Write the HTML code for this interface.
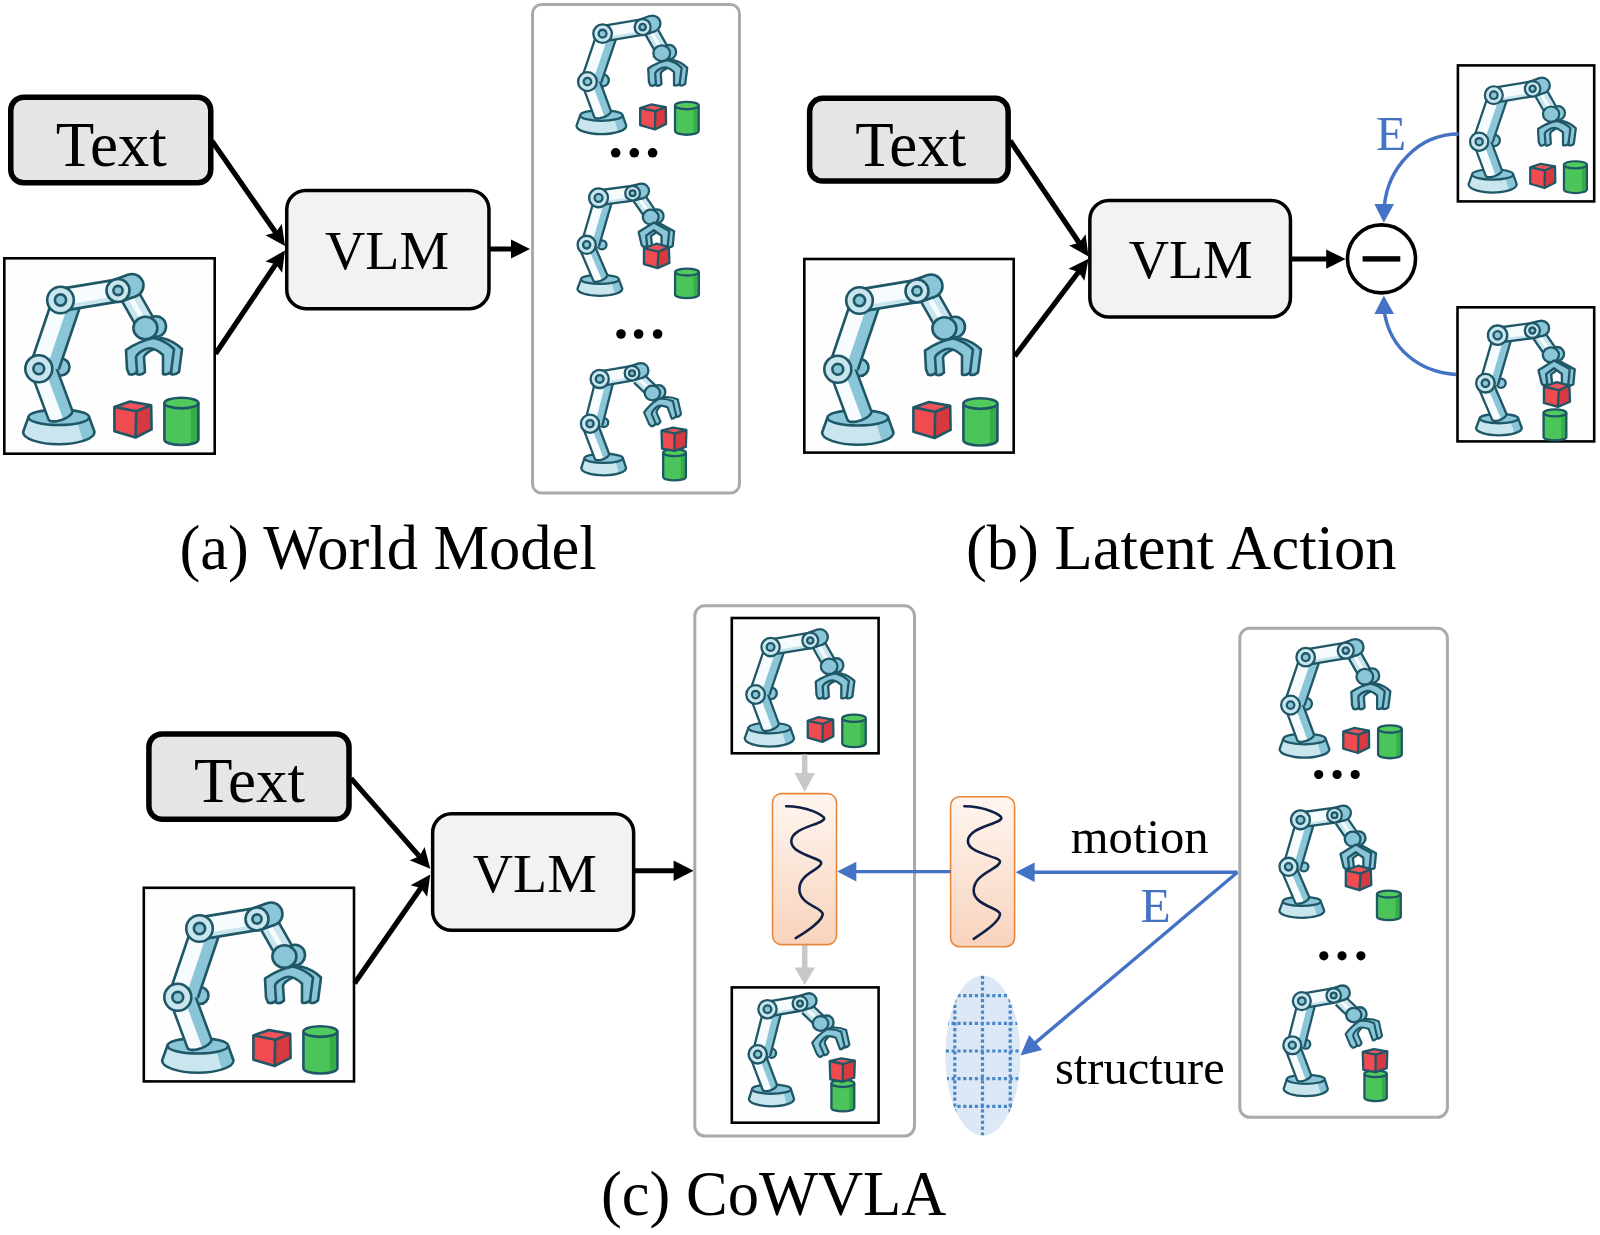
<!DOCTYPE html>
<html><head><meta charset="utf-8"><title>CoWVLA</title>
<style>html,body{margin:0;padding:0;background:#fff;width:1600px;height:1235px;overflow:hidden} svg{display:block}</style>
</head><body>
<svg width="1600" height="1235" viewBox="0 0 1600 1235">
<defs><g id="rA"><path d="M25.4,160.3 L20.1,175.0 A35.7,12.2 0 0 0 91.5,175.0 L86.2,160.3 Z" fill="#c9e6ef"/><path d="M74.6,166.5 L80.1,184.2 A35.7,12.2 0 0 0 91.5,175.0 L86.2,160.3 Z" fill="#8ac6d8"/><path d="M25.4,160.3 L20.1,175.0 A35.7,12.2 0 0 0 91.5,175.0 L86.2,160.3 Z" fill="none" stroke="#1f5767" stroke-width="2.6" stroke-linejoin="round"/><ellipse cx="55.8" cy="160.3" rx="30.4" ry="7.7" fill="#8ac6d8" stroke="#1f5767" stroke-width="2.6"/><circle cx="58.0" cy="110.0" r="8.5" fill="#8ac6d8" stroke="#1f5767" stroke-width="2.6"/><polygon points="51.9,106.6 69.3,153.6 69.4,154.8 68.9,156.1 67.8,157.5 66.2,159.0 64.1,160.4 61.8,161.6 59.2,162.7 56.5,163.6 53.8,164.2 51.4,164.4 49.2,164.4 47.5,164.0 46.2,163.3 45.5,162.4 28.1,115.4" fill="#f6fbfd"/><polygon points="51.9,106.6 69.3,153.6 69.3,154.9 68.7,156.4 67.4,157.9 65.5,159.5 63.1,161.0 60.3,162.3 41.2,110.6" fill="#8ac6d8"/><polyline points="51.9,106.6 69.3,153.6 69.4,154.8 68.9,156.1 67.8,157.5 66.2,159.0 64.1,160.4 61.8,161.6 59.2,162.7 56.5,163.6 53.8,164.2 51.4,164.4 49.2,164.4 47.5,164.0 46.2,163.3 45.5,162.4 28.1,115.4" fill="none" stroke="#1f5767" stroke-width="2.6" stroke-linejoin="round"/><polygon points="55.8,112.5 77.1,49.5 50.1,40.5 28.8,103.5" fill="#f6fbfd"/><polygon points="55.8,112.5 77.1,49.5 65.8,45.7 44.5,108.7" fill="#8ac6d8"/><path d="M55.8,112.5 L77.1,49.5 M50.1,40.5 L28.8,103.5" fill="none" stroke="#1f5767" stroke-width="2.6"/><circle cx="35.8" cy="111.8" r="13.5" fill="#c9e6ef" stroke="#1f5767" stroke-width="2.6"/><circle cx="35.8" cy="111.8" r="5.4" fill="#8ac6d8" stroke="#1f5767" stroke-width="2.6"/><polygon points="59.3,53.9 116.8,44.4 113.2,22.6 55.7,32.1" fill="#f6fbfd"/><polygon points="59.3,53.9 116.8,44.4 115.9,38.9 58.4,48.4" fill="#c9e6ef"/><path d="M59.3,53.9 L116.8,44.4 M113.2,22.6 L55.7,32.1" fill="none" stroke="#1f5767" stroke-width="2.6"/><circle cx="57.5" cy="43.0" r="13.3" fill="#c9e6ef" stroke="#1f5767" stroke-width="2.6"/><circle cx="57.5" cy="43.0" r="5.6" fill="#8ac6d8" stroke="#1f5767" stroke-width="2.6"/><polygon points="118.7,43.7 135.2,72.7 151.8,63.3 135.3,34.3" fill="#c9e6ef"/><polygon points="124.5,40.4 141.0,69.4 145.2,67.1 128.7,38.1" fill="#f6fbfd"/><path d="M118.7,43.7 L135.2,72.7 M151.8,63.3 L135.3,34.3" fill="none" stroke="#1f5767" stroke-width="2.6"/><polygon points="118.9,44.3 132.9,39.3 125.1,17.7 111.1,22.7" fill="#8ac6d8"/><path d="M118.9,44.3 L132.9,39.3 M125.1,17.7 L111.1,22.7" fill="none" stroke="#1f5767" stroke-width="2.6"/><circle cx="129.0" cy="28.5" r="11.5" fill="#8ac6d8" stroke="#1f5767" stroke-width="2.6"/><polygon points="118.4,43.1 132.4,38.1 125.6,18.9 111.6,23.9" fill="#8ac6d8"/><circle cx="115.0" cy="33.5" r="11.5" fill="#c9e6ef" stroke="#1f5767" stroke-width="2.6"/><circle cx="115.0" cy="33.5" r="4.6" fill="#8ac6d8" stroke="#1f5767" stroke-width="2.6"/><ellipse cx="153.0" cy="69.5" rx="10.0" ry="10.3" fill="#8ac6d8" stroke="#1f5767" stroke-width="2.6"/><ellipse cx="142.4" cy="71.0" rx="12.0" ry="11.3" fill="#8ac6d8" stroke="#1f5767" stroke-width="2.6"/><g transform=""><path d="M123,93 Q136,84 151,81 Q163,84 171,92 L168,115 Q164,118.5 160,117 L160,98 Q150,89 143,92 Q134,96 133,100 L134,115 Q130,119 126,117 L124,112 Z" transform="translate(8,0)" fill="#8ac6d8" stroke="#1f5767" stroke-width="2.6" stroke-linejoin="round"/><path d="M123,93 Q136,84 151,81 Q163,84 171,92 L168,115 Q164,118.5 160,117 L160,98 Q150,89 143,92 Q134,96 133,100 L134,115 Q130,119 126,117 L124,112 Z" fill="#8ac6d8" stroke="#1f5767" stroke-width="2.6" stroke-linejoin="round"/></g><path d="M161.4,146.1 L161.4,182.7 A17.0,5.3 0 0 0 195.4,182.7 L195.4,146.1 Z" fill="#4bc45a"/><path d="M187.9,151.4 L187.9,186.9 A17.0,5.3 0 0 0 195.4,182.7 L195.4,146.1 Z" fill="#35ae48"/><path d="M161.4,146.1 L161.4,182.7 A17.0,5.3 0 0 0 195.4,182.7 L195.4,146.1" fill="none" stroke="#1f5767" stroke-width="2.6"/><ellipse cx="178.4" cy="146.1" rx="17.0" ry="5.3" fill="#52cb5e" stroke="#1f5767" stroke-width="2.6"/><polygon points="111.4,149.9 133.2,154.2 132.6,180.5 111.4,174.2" fill="#ef4b51"/><polygon points="133.2,154.2 148.2,148.3 148.6,172.4 132.6,180.5" fill="#d6393f"/><polygon points="111.4,149.9 127.0,144.6 148.2,148.3 133.2,154.2" fill="#f2545a"/><polygon points="111.4,149.9 127.0,144.6 148.2,148.3 148.6,172.4 132.6,180.5 111.4,174.2" fill="none" stroke="#1f5767" stroke-width="2.6" stroke-linejoin="round"/><polyline points="111.4,149.9 133.2,154.2 148.2,148.3" fill="none" stroke="#1f5767" stroke-width="2.6" stroke-linejoin="round"/><line x1="133.2" y1="154.2" x2="132.6" y2="180.5" stroke="#1f5767" stroke-width="2.6"/></g><g id="sA"><path d="M25.4,160.3 L20.1,175.0 A35.7,12.2 0 0 0 91.5,175.0 L86.2,160.3 Z" fill="#c9e6ef"/><path d="M74.6,166.5 L80.1,184.2 A35.7,12.2 0 0 0 91.5,175.0 L86.2,160.3 Z" fill="#8ac6d8"/><path d="M25.4,160.3 L20.1,175.0 A35.7,12.2 0 0 0 91.5,175.0 L86.2,160.3 Z" fill="none" stroke="#1f5767" stroke-width="3.3" stroke-linejoin="round"/><ellipse cx="55.8" cy="160.3" rx="30.4" ry="7.7" fill="#8ac6d8" stroke="#1f5767" stroke-width="3.3"/><circle cx="58.0" cy="110.0" r="8.5" fill="#8ac6d8" stroke="#1f5767" stroke-width="3.3"/><polygon points="51.9,106.6 69.3,153.6 69.4,154.8 68.9,156.1 67.8,157.5 66.2,159.0 64.1,160.4 61.8,161.6 59.2,162.7 56.5,163.6 53.8,164.2 51.4,164.4 49.2,164.4 47.5,164.0 46.2,163.3 45.5,162.4 28.1,115.4" fill="#f6fbfd"/><polygon points="51.9,106.6 69.3,153.6 69.3,154.9 68.7,156.4 67.4,157.9 65.5,159.5 63.1,161.0 60.3,162.3 41.2,110.6" fill="#8ac6d8"/><polyline points="51.9,106.6 69.3,153.6 69.4,154.8 68.9,156.1 67.8,157.5 66.2,159.0 64.1,160.4 61.8,161.6 59.2,162.7 56.5,163.6 53.8,164.2 51.4,164.4 49.2,164.4 47.5,164.0 46.2,163.3 45.5,162.4 28.1,115.4" fill="none" stroke="#1f5767" stroke-width="3.3" stroke-linejoin="round"/><polygon points="55.8,112.5 77.1,49.5 50.1,40.5 28.8,103.5" fill="#f6fbfd"/><polygon points="55.8,112.5 77.1,49.5 65.8,45.7 44.5,108.7" fill="#8ac6d8"/><path d="M55.8,112.5 L77.1,49.5 M50.1,40.5 L28.8,103.5" fill="none" stroke="#1f5767" stroke-width="3.3"/><circle cx="35.8" cy="111.8" r="13.5" fill="#c9e6ef" stroke="#1f5767" stroke-width="3.3"/><circle cx="35.8" cy="111.8" r="5.4" fill="#8ac6d8" stroke="#1f5767" stroke-width="3.3"/><polygon points="59.3,53.9 116.8,44.4 113.2,22.6 55.7,32.1" fill="#f6fbfd"/><polygon points="59.3,53.9 116.8,44.4 115.9,38.9 58.4,48.4" fill="#c9e6ef"/><path d="M59.3,53.9 L116.8,44.4 M113.2,22.6 L55.7,32.1" fill="none" stroke="#1f5767" stroke-width="3.3"/><circle cx="57.5" cy="43.0" r="13.3" fill="#c9e6ef" stroke="#1f5767" stroke-width="3.3"/><circle cx="57.5" cy="43.0" r="5.6" fill="#8ac6d8" stroke="#1f5767" stroke-width="3.3"/><polygon points="118.7,43.7 135.2,72.7 151.8,63.3 135.3,34.3" fill="#c9e6ef"/><polygon points="124.5,40.4 141.0,69.4 145.2,67.1 128.7,38.1" fill="#f6fbfd"/><path d="M118.7,43.7 L135.2,72.7 M151.8,63.3 L135.3,34.3" fill="none" stroke="#1f5767" stroke-width="3.3"/><polygon points="118.9,44.3 132.9,39.3 125.1,17.7 111.1,22.7" fill="#8ac6d8"/><path d="M118.9,44.3 L132.9,39.3 M125.1,17.7 L111.1,22.7" fill="none" stroke="#1f5767" stroke-width="3.3"/><circle cx="129.0" cy="28.5" r="11.5" fill="#8ac6d8" stroke="#1f5767" stroke-width="3.3"/><polygon points="118.3,42.8 132.3,37.8 125.7,19.2 111.7,24.2" fill="#8ac6d8"/><circle cx="115.0" cy="33.5" r="11.5" fill="#c9e6ef" stroke="#1f5767" stroke-width="3.3"/><circle cx="115.0" cy="33.5" r="4.6" fill="#8ac6d8" stroke="#1f5767" stroke-width="3.3"/><ellipse cx="153.0" cy="69.5" rx="10.0" ry="10.3" fill="#8ac6d8" stroke="#1f5767" stroke-width="3.3"/><ellipse cx="142.4" cy="71.0" rx="12.0" ry="11.3" fill="#8ac6d8" stroke="#1f5767" stroke-width="3.3"/><g transform=""><path d="M123,93 Q136,84 151,81 Q163,84 171,92 L168,115 Q164,118.5 160,117 L160,98 Q150,89 143,92 Q134,96 133,100 L134,115 Q130,119 126,117 L124,112 Z" transform="translate(8,0)" fill="#8ac6d8" stroke="#1f5767" stroke-width="3.3" stroke-linejoin="round"/><path d="M123,93 Q136,84 151,81 Q163,84 171,92 L168,115 Q164,118.5 160,117 L160,98 Q150,89 143,92 Q134,96 133,100 L134,115 Q130,119 126,117 L124,112 Z" fill="#8ac6d8" stroke="#1f5767" stroke-width="3.3" stroke-linejoin="round"/></g><path d="M161.4,146.1 L161.4,182.7 A17.0,5.3 0 0 0 195.4,182.7 L195.4,146.1 Z" fill="#4bc45a"/><path d="M187.9,151.4 L187.9,186.9 A17.0,5.3 0 0 0 195.4,182.7 L195.4,146.1 Z" fill="#35ae48"/><path d="M161.4,146.1 L161.4,182.7 A17.0,5.3 0 0 0 195.4,182.7 L195.4,146.1" fill="none" stroke="#1f5767" stroke-width="3.3"/><ellipse cx="178.4" cy="146.1" rx="17.0" ry="5.3" fill="#52cb5e" stroke="#1f5767" stroke-width="3.3"/><polygon points="111.4,149.9 133.2,154.2 132.6,180.5 111.4,174.2" fill="#ef4b51"/><polygon points="133.2,154.2 148.2,148.3 148.6,172.4 132.6,180.5" fill="#d6393f"/><polygon points="111.4,149.9 127.0,144.6 148.2,148.3 133.2,154.2" fill="#f2545a"/><polygon points="111.4,149.9 127.0,144.6 148.2,148.3 148.6,172.4 132.6,180.5 111.4,174.2" fill="none" stroke="#1f5767" stroke-width="3.3" stroke-linejoin="round"/><polyline points="111.4,149.9 133.2,154.2 148.2,148.3" fill="none" stroke="#1f5767" stroke-width="3.3" stroke-linejoin="round"/><line x1="133.2" y1="154.2" x2="132.6" y2="180.5" stroke="#1f5767" stroke-width="3.3"/></g><g id="rB"><path d="M30.0,156.3 L25.0,169.5 A32.0,10.3 0 0 0 89.0,169.5 L84.0,156.3 Z" fill="#c9e6ef"/><path d="M73.7,161.5 L78.8,177.2 A32.0,10.3 0 0 0 89.0,169.5 L84.0,156.3 Z" fill="#8ac6d8"/><path d="M30.0,156.3 L25.0,169.5 A32.0,10.3 0 0 0 89.0,169.5 L84.0,156.3 Z" fill="none" stroke="#1f5767" stroke-width="3.3" stroke-linejoin="round"/><ellipse cx="57.0" cy="156.3" rx="27.0" ry="6.5" fill="#8ac6d8" stroke="#1f5767" stroke-width="3.3"/><circle cx="59.9" cy="106.9" r="6.5" fill="#8ac6d8" stroke="#1f5767" stroke-width="3.3"/><polygon points="46.9,101.8 67.4,149.7 67.5,150.7 67.1,151.8 66.3,153.1 65.0,154.4 63.3,155.6 61.3,156.8 59.2,157.9 57.0,158.7 54.7,159.3 52.7,159.6 50.8,159.7 49.3,159.4 48.2,158.9 47.6,158.1 27.1,110.2" fill="#f6fbfd"/><polygon points="46.9,101.8 67.4,149.7 67.5,150.8 67.0,152.0 66.0,153.4 64.4,154.8 62.4,156.2 60.2,157.4 38.0,105.6" fill="#8ac6d8"/><polyline points="46.9,101.8 67.4,149.7 67.5,150.7 67.1,151.8 66.3,153.1 65.0,154.4 63.3,155.6 61.3,156.8 59.2,157.9 57.0,158.7 54.7,159.3 52.7,159.6 50.8,159.7 49.3,159.4 48.2,158.9 47.6,158.1 27.1,110.2" fill="none" stroke="#1f5767" stroke-width="3.3" stroke-linejoin="round"/><polygon points="55.5,109.5 75.6,40.5 51.4,33.5 31.3,102.5" fill="#f6fbfd"/><polygon points="55.5,109.5 75.6,40.5 65.4,37.6 45.3,106.6" fill="#8ac6d8"/><path d="M55.5,109.5 L75.6,40.5 M51.4,33.5 L31.3,102.5" fill="none" stroke="#1f5767" stroke-width="3.3"/><circle cx="38.1" cy="106.9" r="13.0" fill="#c9e6ef" stroke="#1f5767" stroke-width="3.3"/><circle cx="38.1" cy="106.9" r="5.2" fill="#8ac6d8" stroke="#1f5767" stroke-width="3.3"/><polygon points="56.5,50.1 105.1,43.6 102.3,22.8 53.7,29.3" fill="#f6fbfd"/><polygon points="56.5,50.1 105.1,43.6 104.4,38.4 55.8,44.9" fill="#c9e6ef"/><path d="M56.5,50.1 L105.1,43.6 M102.3,22.8 L53.7,29.3" fill="none" stroke="#1f5767" stroke-width="3.3"/><circle cx="55.1" cy="39.7" r="13.5" fill="#c9e6ef" stroke="#1f5767" stroke-width="3.3"/><circle cx="55.1" cy="39.7" r="5.7" fill="#8ac6d8" stroke="#1f5767" stroke-width="3.3"/><polygon points="105.6,45.1 123.6,71.1 138.4,60.9 120.4,34.9" fill="#c9e6ef"/><polygon points="110.8,41.5 128.8,67.5 132.5,65.0 114.5,39.0" fill="#f6fbfd"/><path d="M105.6,45.1 L123.6,71.1 M138.4,60.9 L120.4,34.9" fill="none" stroke="#1f5767" stroke-width="3.3"/><polygon points="106.2,43.4 119.1,40.2 114.1,19.8 101.2,23.0" fill="#8ac6d8"/><path d="M106.2,43.4 L119.1,40.2 M114.1,19.8 L101.2,23.0" fill="none" stroke="#1f5767" stroke-width="3.3"/><circle cx="116.6" cy="30.0" r="10.5" fill="#8ac6d8" stroke="#1f5767" stroke-width="3.3"/><polygon points="105.8,41.8 118.7,38.6 114.5,21.4 101.6,24.6" fill="#8ac6d8"/><circle cx="103.7" cy="33.2" r="10.5" fill="#c9e6ef" stroke="#1f5767" stroke-width="3.3"/><circle cx="103.7" cy="33.2" r="4.2" fill="#8ac6d8" stroke="#1f5767" stroke-width="3.3"/><ellipse cx="138.5" cy="66.0" rx="9.5" ry="9.8" fill="#8ac6d8" stroke="#1f5767" stroke-width="3.3"/><ellipse cx="129.6" cy="67.2" rx="11.3" ry="10.5" fill="#8ac6d8" stroke="#1f5767" stroke-width="3.3"/><g transform=""><path d="M112.3,88.6 L134,75 L156,87 L154,108 Q151,110 148,109.5 L145,107 L145,94 L134,86 L123,94 L124.5,108 Q121.5,110.5 119,109.5 L116.8,107.6 Z" transform="translate(7,0.5)" fill="#8ac6d8" stroke="#1f5767" stroke-width="3.3" stroke-linejoin="round"/><path d="M112.3,88.6 L134,75 L156,87 L154,108 Q151,110 148,109.5 L145,107 L145,94 L134,86 L123,94 L124.5,108 Q121.5,110.5 119,109.5 L116.8,107.6 Z" fill="#8ac6d8" stroke="#1f5767" stroke-width="3.3" stroke-linejoin="round"/></g><path d="M164.4,145.8 L164.4,178.1 A17.0,4.9 0 0 0 198.4,178.1 L198.4,145.8 Z" fill="#4bc45a"/><path d="M190.9,150.7 L190.9,182.0 A17.0,4.9 0 0 0 198.4,178.1 L198.4,145.8 Z" fill="#35ae48"/><path d="M164.4,145.8 L164.4,178.1 A17.0,4.9 0 0 0 198.4,178.1 L198.4,145.8" fill="none" stroke="#1f5767" stroke-width="3.3"/><ellipse cx="181.4" cy="145.8" rx="17.0" ry="4.9" fill="#52cb5e" stroke="#1f5767" stroke-width="3.3"/><polygon points="119.9,111.8 140.9,116.6 139.3,140.1 119.9,134.4" fill="#ef4b51"/><polygon points="140.9,116.6 155.5,110.1 156.3,132.8 139.3,140.1" fill="#d6393f"/><polygon points="119.9,111.8 137.7,105.3 155.5,110.1 140.9,116.6" fill="#f2545a"/><polygon points="119.9,111.8 137.7,105.3 155.5,110.1 156.3,132.8 139.3,140.1 119.9,134.4" fill="none" stroke="#1f5767" stroke-width="3.3" stroke-linejoin="round"/><polyline points="119.9,111.8 140.9,116.6 155.5,110.1" fill="none" stroke="#1f5767" stroke-width="3.3" stroke-linejoin="round"/><line x1="140.9" y1="116.6" x2="139.3" y2="140.1" stroke="#1f5767" stroke-width="3.3"/></g><g id="rC"><path d="M34.9,154.7 L30.4,168.5 A32.0,10.5 0 0 0 94.4,168.5 L89.9,154.7 Z" fill="#c9e6ef"/><path d="M79.5,159.9 L84.2,176.4 A32.0,10.5 0 0 0 94.4,168.5 L89.9,154.7 Z" fill="#8ac6d8"/><path d="M34.9,154.7 L30.4,168.5 A32.0,10.5 0 0 0 94.4,168.5 L89.9,154.7 Z" fill="none" stroke="#1f5767" stroke-width="3.3" stroke-linejoin="round"/><ellipse cx="62.4" cy="154.7" rx="27.5" ry="6.5" fill="#8ac6d8" stroke="#1f5767" stroke-width="3.3"/><circle cx="62.4" cy="103.7" r="6.5" fill="#8ac6d8" stroke="#1f5767" stroke-width="3.3"/><polygon points="52.1,100.7 70.1,148.2 70.1,149.2 69.7,150.3 68.8,151.5 67.5,152.8 65.7,154.0 63.7,155.1 61.5,156.0 59.2,156.8 57.0,157.3 54.9,157.5 53.1,157.5 51.6,157.2 50.5,156.6 49.9,155.8 31.9,108.3" fill="#f6fbfd"/><polygon points="52.1,100.7 70.1,148.2 70.1,149.3 69.6,150.5 68.5,151.9 66.9,153.2 64.8,154.5 62.5,155.6 43.0,104.1" fill="#8ac6d8"/><polyline points="52.1,100.7 70.1,148.2 70.1,149.2 69.7,150.3 68.8,151.5 67.5,152.8 65.7,154.0 63.7,155.1 61.5,156.0 59.2,156.8 57.0,157.3 54.9,157.5 53.1,157.5 51.6,157.2 50.5,156.6 49.9,155.8 31.9,108.3" fill="none" stroke="#1f5767" stroke-width="3.3" stroke-linejoin="round"/><polygon points="60.4,108.1 77.2,41.6 52.8,35.4 36.0,101.9" fill="#f6fbfd"/><polygon points="60.4,108.1 77.2,41.6 67.0,39.0 50.2,105.5" fill="#8ac6d8"/><path d="M60.4,108.1 L77.2,41.6 M52.8,35.4 L36.0,101.9" fill="none" stroke="#1f5767" stroke-width="3.3"/><circle cx="42.9" cy="105.3" r="13.0" fill="#c9e6ef" stroke="#1f5767" stroke-width="3.3"/><circle cx="42.9" cy="105.3" r="5.2" fill="#8ac6d8" stroke="#1f5767" stroke-width="3.3"/><polygon points="58.5,51.6 104.7,43.5 101.1,22.9 54.9,31.0" fill="#f6fbfd"/><polygon points="58.5,51.6 104.7,43.5 103.8,38.4 57.6,46.5" fill="#c9e6ef"/><path d="M58.5,51.6 L104.7,43.5 M101.1,22.9 L54.9,31.0" fill="none" stroke="#1f5767" stroke-width="3.3"/><circle cx="56.7" cy="41.3" r="13.0" fill="#c9e6ef" stroke="#1f5767" stroke-width="3.3"/><circle cx="56.7" cy="41.3" r="5.5" fill="#8ac6d8" stroke="#1f5767" stroke-width="3.3"/><polygon points="105.8,46.5 126.8,66.5 139.2,53.5 118.2,33.5" fill="#c9e6ef"/><polygon points="110.1,41.9 131.1,61.9 134.2,58.7 113.2,38.7" fill="#f6fbfd"/><path d="M105.8,46.5 L126.8,66.5 M139.2,53.5 L118.2,33.5" fill="none" stroke="#1f5767" stroke-width="3.3"/><polygon points="106.0,43.2 118.9,39.2 112.7,19.2 99.8,23.2" fill="#8ac6d8"/><path d="M106.0,43.2 L118.9,39.2 M112.7,19.2 L99.8,23.2" fill="none" stroke="#1f5767" stroke-width="3.3"/><circle cx="115.8" cy="29.2" r="10.5" fill="#8ac6d8" stroke="#1f5767" stroke-width="3.3"/><polygon points="105.5,41.7 118.4,37.7 113.2,20.7 100.3,24.7" fill="#8ac6d8"/><circle cx="102.9" cy="33.2" r="10.5" fill="#c9e6ef" stroke="#1f5767" stroke-width="3.3"/><circle cx="102.9" cy="33.2" r="4.2" fill="#8ac6d8" stroke="#1f5767" stroke-width="3.3"/><ellipse cx="141.0" cy="60.0" rx="9.5" ry="9.8" fill="#8ac6d8" stroke="#1f5767" stroke-width="3.3"/><ellipse cx="132.0" cy="61.5" rx="11.0" ry="10.5" fill="#8ac6d8" stroke="#1f5767" stroke-width="3.3"/><g transform="translate(-3,-12) rotate(-20 147 100) scale(0.92) translate(12,8)"><path d="M123,93 Q136,84 151,81 Q163,84 171,92 L168,115 Q164,118.5 160,117 L160,98 Q150,89 143,92 Q134,96 133,100 L134,115 Q130,119 126,117 L124,112 Z" transform="translate(8,0)" fill="#8ac6d8" stroke="#1f5767" stroke-width="3.3" stroke-linejoin="round"/><path d="M123,93 Q136,84 151,81 Q163,84 171,92 L168,115 Q164,118.5 160,117 L160,98 Q150,89 143,92 Q134,96 133,100 L134,115 Q130,119 126,117 L124,112 Z" fill="#8ac6d8" stroke="#1f5767" stroke-width="3.3" stroke-linejoin="round"/></g><path d="M147.4,146.6 L147.4,181.3 A16.2,5.0 0 0 0 179.8,181.3 L179.8,146.6 Z" fill="#4bc45a"/><path d="M172.7,151.6 L172.7,185.3 A16.2,5.0 0 0 0 179.8,181.3 L179.8,146.6 Z" fill="#35ae48"/><path d="M147.4,146.6 L147.4,181.3 A16.2,5.0 0 0 0 179.8,181.3 L179.8,146.6" fill="none" stroke="#1f5767" stroke-width="3.3"/><ellipse cx="163.6" cy="146.6" rx="16.2" ry="5.0" fill="#52cb5e" stroke="#1f5767" stroke-width="3.3"/><polygon points="145.0,115.0 163.6,119.0 163.6,144.2 145.8,140.9" fill="#ef4b51"/><polygon points="163.6,119.0 180.6,114.2 179.8,138.5 163.6,144.2" fill="#d6393f"/><polygon points="145.0,115.0 161.2,111.0 180.6,114.2 163.6,119.0" fill="#f2545a"/><polygon points="145.0,115.0 161.2,111.0 180.6,114.2 179.8,138.5 163.6,144.2 145.8,140.9" fill="none" stroke="#1f5767" stroke-width="3.3" stroke-linejoin="round"/><polyline points="145.0,115.0 163.6,119.0 180.6,114.2" fill="none" stroke="#1f5767" stroke-width="3.3" stroke-linejoin="round"/><line x1="163.6" y1="119.0" x2="163.6" y2="144.2" stroke="#1f5767" stroke-width="3.3"/></g><g id="rD"><path d="M30.0,156.3 L25.0,169.5 A32.0,10.3 0 0 0 89.0,169.5 L84.0,156.3 Z" fill="#c9e6ef"/><path d="M73.7,161.5 L78.8,177.2 A32.0,10.3 0 0 0 89.0,169.5 L84.0,156.3 Z" fill="#8ac6d8"/><path d="M30.0,156.3 L25.0,169.5 A32.0,10.3 0 0 0 89.0,169.5 L84.0,156.3 Z" fill="none" stroke="#1f5767" stroke-width="3.3" stroke-linejoin="round"/><ellipse cx="57.0" cy="156.3" rx="27.0" ry="6.5" fill="#8ac6d8" stroke="#1f5767" stroke-width="3.3"/><circle cx="59.9" cy="106.9" r="6.5" fill="#8ac6d8" stroke="#1f5767" stroke-width="3.3"/><polygon points="46.9,101.8 67.4,149.7 67.5,150.7 67.1,151.8 66.3,153.1 65.0,154.4 63.3,155.6 61.3,156.8 59.2,157.9 57.0,158.7 54.7,159.3 52.7,159.6 50.8,159.7 49.3,159.4 48.2,158.9 47.6,158.1 27.1,110.2" fill="#f6fbfd"/><polygon points="46.9,101.8 67.4,149.7 67.5,150.8 67.0,152.0 66.0,153.4 64.4,154.8 62.4,156.2 60.2,157.4 38.0,105.6" fill="#8ac6d8"/><polyline points="46.9,101.8 67.4,149.7 67.5,150.7 67.1,151.8 66.3,153.1 65.0,154.4 63.3,155.6 61.3,156.8 59.2,157.9 57.0,158.7 54.7,159.3 52.7,159.6 50.8,159.7 49.3,159.4 48.2,158.9 47.6,158.1 27.1,110.2" fill="none" stroke="#1f5767" stroke-width="3.3" stroke-linejoin="round"/><polygon points="55.5,109.5 75.6,40.5 51.4,33.5 31.3,102.5" fill="#f6fbfd"/><polygon points="55.5,109.5 75.6,40.5 65.4,37.6 45.3,106.6" fill="#8ac6d8"/><path d="M55.5,109.5 L75.6,40.5 M51.4,33.5 L31.3,102.5" fill="none" stroke="#1f5767" stroke-width="3.3"/><circle cx="38.1" cy="106.9" r="13.0" fill="#c9e6ef" stroke="#1f5767" stroke-width="3.3"/><circle cx="38.1" cy="106.9" r="5.2" fill="#8ac6d8" stroke="#1f5767" stroke-width="3.3"/><polygon points="56.5,50.1 105.1,43.6 102.3,22.8 53.7,29.3" fill="#f6fbfd"/><polygon points="56.5,50.1 105.1,43.6 104.4,38.4 55.8,44.9" fill="#c9e6ef"/><path d="M56.5,50.1 L105.1,43.6 M102.3,22.8 L53.7,29.3" fill="none" stroke="#1f5767" stroke-width="3.3"/><circle cx="55.1" cy="39.7" r="13.5" fill="#c9e6ef" stroke="#1f5767" stroke-width="3.3"/><circle cx="55.1" cy="39.7" r="5.7" fill="#8ac6d8" stroke="#1f5767" stroke-width="3.3"/><polygon points="105.6,45.1 123.6,71.1 138.4,60.9 120.4,34.9" fill="#c9e6ef"/><polygon points="110.8,41.5 128.8,67.5 132.5,65.0 114.5,39.0" fill="#f6fbfd"/><path d="M105.6,45.1 L123.6,71.1 M138.4,60.9 L120.4,34.9" fill="none" stroke="#1f5767" stroke-width="3.3"/><polygon points="106.2,43.4 119.1,40.2 114.1,19.8 101.2,23.0" fill="#8ac6d8"/><path d="M106.2,43.4 L119.1,40.2 M114.1,19.8 L101.2,23.0" fill="none" stroke="#1f5767" stroke-width="3.3"/><circle cx="116.6" cy="30.0" r="10.5" fill="#8ac6d8" stroke="#1f5767" stroke-width="3.3"/><polygon points="105.8,41.8 118.7,38.6 114.5,21.4 101.6,24.6" fill="#8ac6d8"/><circle cx="103.7" cy="33.2" r="10.5" fill="#c9e6ef" stroke="#1f5767" stroke-width="3.3"/><circle cx="103.7" cy="33.2" r="4.2" fill="#8ac6d8" stroke="#1f5767" stroke-width="3.3"/><ellipse cx="138.5" cy="66.0" rx="9.5" ry="9.8" fill="#8ac6d8" stroke="#1f5767" stroke-width="3.3"/><ellipse cx="129.6" cy="67.2" rx="11.3" ry="10.5" fill="#8ac6d8" stroke="#1f5767" stroke-width="3.3"/><g transform=""><path d="M112.3,88.6 L134,75 L156,87 L154,108 Q151,110 148,109.5 L145,107 L145,94 L134,86 L123,94 L124.5,108 Q121.5,110.5 119,109.5 L116.8,107.6 Z" transform="translate(7,0.5)" fill="#8ac6d8" stroke="#1f5767" stroke-width="3.3" stroke-linejoin="round"/><path d="M112.3,88.6 L134,75 L156,87 L154,108 Q151,110 148,109.5 L145,107 L145,94 L134,86 L123,94 L124.5,108 Q121.5,110.5 119,109.5 L116.8,107.6 Z" fill="#8ac6d8" stroke="#1f5767" stroke-width="3.3" stroke-linejoin="round"/></g><path d="M119.4,148.3 L119.4,182.0 A15.9,4.9 0 0 0 151.2,182.0 L151.2,148.3 Z" fill="#4bc45a"/><path d="M144.2,153.2 L144.2,185.9 A15.9,4.9 0 0 0 151.2,182.0 L151.2,148.3 Z" fill="#35ae48"/><path d="M119.4,148.3 L119.4,182.0 A15.9,4.9 0 0 0 151.2,182.0 L151.2,148.3" fill="none" stroke="#1f5767" stroke-width="3.3"/><ellipse cx="135.3" cy="148.3" rx="15.9" ry="4.9" fill="#52cb5e" stroke="#1f5767" stroke-width="3.3"/><polygon points="119.9,111.8 140.9,116.6 139.3,140.1 119.9,134.4" fill="#ef4b51"/><polygon points="140.9,116.6 155.5,110.1 156.3,132.8 139.3,140.1" fill="#d6393f"/><polygon points="119.9,111.8 137.7,105.3 155.5,110.1 140.9,116.6" fill="#f2545a"/><polygon points="119.9,111.8 137.7,105.3 155.5,110.1 156.3,132.8 139.3,140.1 119.9,134.4" fill="none" stroke="#1f5767" stroke-width="3.3" stroke-linejoin="round"/><polyline points="119.9,111.8 140.9,116.6 155.5,110.1" fill="none" stroke="#1f5767" stroke-width="3.3" stroke-linejoin="round"/><line x1="140.9" y1="116.6" x2="139.3" y2="140.1" stroke="#1f5767" stroke-width="3.3"/></g></defs>
<rect width="1600" height="1235" fill="#fff"/>
<rect x="10.75" y="97.25" width="200.00" height="85.50" rx="13" fill="#e6e6e6" stroke="#000" stroke-width="5.5"/><text x="55.8" y="166" font-family="Liberation Serif, serif" font-size="63">Text</text><rect x="4.3" y="258.3" width="210.40" height="195.40" fill="#fefefe" stroke="#000" stroke-width="2.6"/><use href="#rA" transform="translate(3,257) scale(1)"/><rect x="286.75" y="190.5" width="202.20" height="118.15" rx="19" fill="#f2f2f2" stroke="#000" stroke-width="3.5"/><text x="325" y="268.6" font-family="Liberation Serif, serif" font-size="55.8">VLM</text><line x1="212.0" y1="141.0" x2="276.2" y2="233.3" stroke="#000" stroke-width="5.2"/><polygon points="285.0,246.0 265.4,235.3 275.6,232.5 281.8,223.9" fill="#000"/><line x1="215.5" y1="353.7" x2="276.3" y2="263.4" stroke="#000" stroke-width="5.2"/><polygon points="285.0,250.5 282.1,272.7 275.8,264.2 265.5,261.5" fill="#000"/><line x1="490.0" y1="249.0" x2="512.0" y2="249.0" stroke="#000" stroke-width="5"/><polygon points="530.0,249.0 511.0,258.6 511.0,249.0 511.0,239.4" fill="#000"/><rect x="532.5" y="4.5" width="207" height="488.5" rx="9" fill="#fff" stroke="#aaaaaa" stroke-width="3"/><use href="#sA" transform="translate(562.5,3.7) scale(0.697)"/><use href="#rB" transform="translate(560,170) scale(0.7)"/><use href="#rC" transform="translate(560,350) scale(0.7)"/><circle cx="615.7" cy="152.8" r="4.8"/><circle cx="634.3" cy="152.8" r="4.8"/><circle cx="652.6" cy="152.8" r="4.8"/><circle cx="621" cy="334" r="4.8"/><circle cx="638.6" cy="334" r="4.8"/><circle cx="657.6" cy="334" r="4.8"/><text x="179.4" y="569" font-family="Liberation Serif, serif" font-size="62.5">(a) World Model</text><rect x="809.65" y="98.35" width="198.50" height="82.65" rx="13" fill="#e6e6e6" stroke="#000" stroke-width="5.5"/><text x="855.2" y="165.9" font-family="Liberation Serif, serif" font-size="63">Text</text><rect x="804.3" y="259" width="209.40" height="193.60" fill="#fefefe" stroke="#000" stroke-width="2.6"/><use href="#rA" transform="translate(802,257.5) scale(1)"/><rect x="1089.85" y="200.5" width="200.60" height="116.50" rx="19" fill="#f2f2f2" stroke="#000" stroke-width="3.5"/><text x="1128.7" y="278" font-family="Liberation Serif, serif" font-size="55.8">VLM</text><line x1="1010.2" y1="140.8" x2="1079.8" y2="243.7" stroke="#000" stroke-width="5.2"/><polygon points="1088.5,256.5 1069.0,245.5 1079.3,242.8 1085.6,234.3" fill="#000"/><line x1="1014.7" y1="356.3" x2="1079.1" y2="271.2" stroke="#000" stroke-width="5.2"/><polygon points="1088.5,258.8 1084.4,280.8 1078.5,272.0 1068.5,268.7" fill="#000"/><line x1="1291.5" y1="259.1" x2="1327.2" y2="259.1" stroke="#000" stroke-width="5"/><polygon points="1345.6,259.1 1326.2,268.8 1326.2,259.1 1326.2,249.4" fill="#000"/><circle cx="1381.5" cy="258.9" r="34" fill="#fff" stroke="#000" stroke-width="3.6"/><rect x="1362.6" y="256.2" width="37.7" height="5.4" fill="#000"/><rect x="1457.9" y="65.4" width="136.30" height="136.00" fill="#fefefe" stroke="#000" stroke-width="2.6"/><use href="#sA" transform="translate(1455,66.2) scale(0.675)"/><rect x="1457.5" y="307.3" width="136.70" height="134.10" fill="#fefefe" stroke="#000" stroke-width="2.6"/><use href="#rD" transform="translate(1458.2,306.8) scale(0.715)"/><path d="M1458.6,134 C1418,134 1388,168 1384.3,206" fill="none" stroke="#4472c4" stroke-width="3.4"/><polygon points="1383.8,222.7 1374.4,204 1394,204" fill="#4472c4"/><path d="M1456.1,374.5 C1418,372 1390,348 1384.3,312" fill="none" stroke="#4472c4" stroke-width="3.4"/><polygon points="1383.8,295.6 1374.4,314 1394,314" fill="#4472c4"/><text x="1376" y="149.8" font-family="Liberation Serif, serif" font-size="49.5" fill="#4472c4">E</text><text x="966" y="568.9" font-family="Liberation Serif, serif" font-size="62.5">(b) Latent Action</text><rect x="148.9" y="734" width="200.10" height="85.20" rx="13" fill="#e6e6e6" stroke="#000" stroke-width="5.5"/><text x="194" y="802" font-family="Liberation Serif, serif" font-size="63">Text</text><rect x="143.8" y="887.8" width="210.20" height="193.60" fill="#fefefe" stroke="#000" stroke-width="2.6"/><use href="#rA" transform="translate(142,885.5) scale(1)"/><rect x="432.65" y="813.75" width="201.00" height="116.50" rx="19" fill="#f2f2f2" stroke="#000" stroke-width="3.5"/><text x="472.8" y="891.8" font-family="Liberation Serif, serif" font-size="55.8">VLM</text><line x1="351.0" y1="778.4" x2="420.1" y2="857.1" stroke="#000" stroke-width="5.2"/><polygon points="430.3,868.7 409.6,860.3 419.4,856.3 424.6,847.1" fill="#000"/><line x1="354.6" y1="983.3" x2="421.4" y2="887.3" stroke="#000" stroke-width="5.2"/><polygon points="430.3,874.6 427.1,896.7 420.9,888.1 410.7,885.3" fill="#000"/><line x1="634.0" y1="870.8" x2="674.6" y2="870.8" stroke="#000" stroke-width="5"/><polygon points="693.6,870.8 673.6,881.1 673.6,870.8 673.6,860.5" fill="#000"/><rect x="694.8" y="605.8" width="219.7" height="530.3" rx="10" fill="#fff" stroke="#aaaaaa" stroke-width="3"/><rect x="731.8" y="618" width="146.80" height="135.30" fill="#fefefe" stroke="#000" stroke-width="2.6"/><use href="#sA" transform="translate(730.9,617.4) scale(0.69)"/><rect x="731.8" y="987.4" width="146.80" height="135.30" fill="#fefefe" stroke="#000" stroke-width="2.6"/><use href="#rC" transform="translate(727.5,980.1) scale(0.705)"/><line x1="804.7" y1="754.4" x2="804.7" y2="774.0" stroke="#c8c8c8" stroke-width="5.5"/><polygon points="804.7,792.0 794.5,773.0 804.7,773.0 814.9,773.0" fill="#c8c8c8"/><line x1="804.7" y1="945.0" x2="804.7" y2="968.5" stroke="#c8c8c8" stroke-width="5.5"/><polygon points="804.7,985.0 794.5,967.5 804.7,967.5 814.9,967.5" fill="#c8c8c8"/><defs><linearGradient id="og" x1="0" y1="0" x2="0" y2="1"><stop offset="0" stop-color="#fff6f0"/><stop offset="1" stop-color="#f8d3bc"/></linearGradient></defs><rect x="772.5" y="793.6" width="64" height="151" rx="9" fill="url(#og)" stroke="#e8873a" stroke-width="1.6"/><path d="M786.2,806.2 C807.0,806.2 824.1,815.3 824.1,818.5 C824.1,824.4 791.3,827.1 791.3,841.2 C791.3,854.8 821.2,857.4 821.2,863.1 C821.2,869.9 799.4,873.1 799.4,889.3 C799.4,904.7 822.7,907.7 822.7,914.1 C822.7,920.4 807.9,931.0 795.7,938.2" fill="none" stroke="#0f1f45" stroke-width="2.6" stroke-linecap="round"/><rect x="950.6" y="796.8" width="64" height="150" rx="9" fill="url(#og)" stroke="#e8873a" stroke-width="1.6"/><path d="M964.4,806.2 C984.8,806.2 1001.4,814.9 1001.4,818 C1001.4,824.0 967.9,826.8 967.9,841.2 C967.9,853.8 1000.0,856.3 1000,861.6 C1000.0,869.2 973.7,872.7 973.7,890.8 C973.7,905.2 1000.0,908.0 1000,914.1 C1000.0,920.5 985.5,931.4 973.7,938.8" fill="none" stroke="#0f1f45" stroke-width="2.6" stroke-linecap="round"/><line x1="950.6" y1="871.6" x2="855.3" y2="871.6" stroke="#4472c4" stroke-width="3.2"/><polygon points="837.3,871.6 856.3,861.8 856.3,871.6 856.3,881.4" fill="#4472c4"/><line x1="1237.5" y1="872.2" x2="1033.6" y2="872.2" stroke="#4472c4" stroke-width="3.4"/><polygon points="1015.6,872.2 1034.6,862.4 1034.6,872.2 1034.6,882.0" fill="#4472c4"/><line x1="1237.5" y1="872.2" x2="1034.9" y2="1043.1" stroke="#4472c4" stroke-width="3.4"/><polygon points="1020.4,1055.4 1029.2,1034.9 1035.7,1042.5 1042.1,1050.1" fill="#4472c4"/><defs><clipPath id="ec"><ellipse cx="982.8" cy="1055.5" rx="37.6" ry="80"/></clipPath></defs><ellipse cx="982.8" cy="1055.5" rx="37.6" ry="80" fill="#dce8f5"/><g clip-path="url(#ec)" stroke="#4a88c9" stroke-width="3.2" stroke-dasharray="3.2,2.6"><line x1="954.8" y1="970" x2="954.8" y2="1140" /><line x1="982.5" y1="970" x2="982.5" y2="1140" /><line x1="1010.2" y1="970" x2="1010.2" y2="1140" /><line x1="940" y1="995.7" x2="1025" y2="995.7" /><line x1="940" y1="1023.4" x2="1025" y2="1023.4" /><line x1="940" y1="1051" x2="1025" y2="1051" /><line x1="940" y1="1078.7" x2="1025" y2="1078.7" /><line x1="940" y1="1106.4" x2="1025" y2="1106.4" /></g><text x="1070.8" y="852.8" font-family="Liberation Serif, serif" font-size="48.6">motion</text><text x="1140.5" y="921.9" font-family="Liberation Serif, serif" font-size="49.5" fill="#4472c4">E</text><text x="1055" y="1084" font-family="Liberation Serif, serif" font-size="48.5">structure</text><rect x="1239.8" y="628.3" width="207.6" height="489" rx="10" fill="#fff" stroke="#aaaaaa" stroke-width="3"/><use href="#sA" transform="translate(1265.6,627.2) scale(0.697)"/><use href="#rB" transform="translate(1261.9,792) scale(0.7)"/><use href="#rC" transform="translate(1262.7,972.6) scale(0.69)"/><circle cx="1318.7" cy="774.5" r="4.6"/><circle cx="1337.1" cy="774.5" r="4.6"/><circle cx="1355.2" cy="774.5" r="4.6"/><circle cx="1323.8" cy="955.8" r="4.6"/><circle cx="1342" cy="955.8" r="4.6"/><circle cx="1360.9" cy="955.8" r="4.6"/><text x="601" y="1214.8" font-family="Liberation Serif, serif" font-size="62.5">(c) CoWVLA</text>
</svg>
</body></html>
